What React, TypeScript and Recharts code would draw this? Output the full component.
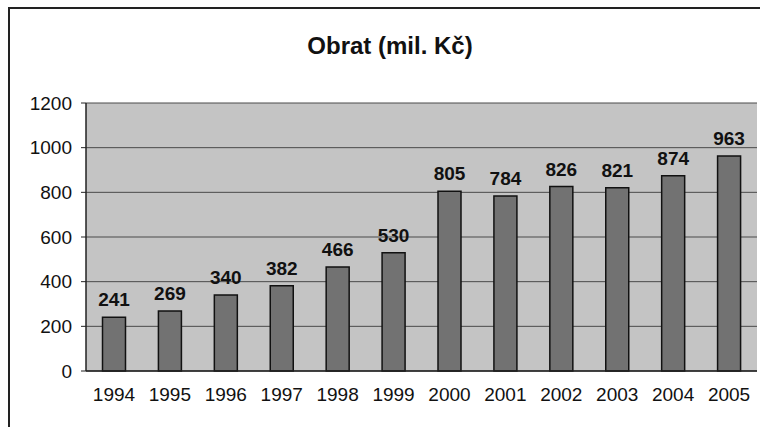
import React from 'react';
import { BarChart, Bar, XAxis, YAxis, CartesianGrid, LabelList } from 'recharts';

const years = ['1994', '1995', '1996', '1997', '1998', '1999', '2000', '2001', '2002', '2003', '2004', '2005'];
const turnover = [241, 269, 340, 382, 466, 530, 805, 784, 826, 821, 874, 963];
const yTicks = [0, 200, 400, 600, 800, 1000, 1200];

const data = years.map((year, i) => ({ year, value: turnover[i] }));

const font = 'Arial, "Liberation Sans", sans-serif';

const App: React.FC = () => {
    return (
        <div style={{ position: 'fixed', left: 0, top: 0, width: 760, height: 427, background: '#fff', fontFamily: font }}>
            <div
                style={{
                    position: 'absolute',
                    left: 8,
                    top: 7,
                    width: 760,
                    height: 440,
                    borderLeft: '2px solid #222',
                    borderTop: '2px solid #222',
                }}
            />
            <div
                style={{
                    position: 'absolute',
                    left: 0,
                    width: 760,
                    top: 32,
                    textAlign: 'center',
                    fontSize: 24,
                    fontWeight: 'bold',
                    color: '#111',
                    paddingLeft: 20,
                    boxSizing: 'border-box',
                }}
            >
                Obrat (mil. Kč)
            </div>
            <div style={{ position: 'absolute', left: 0, top: 0 }}>
                <BarChart
                    width={760}
                    height={427}
                    data={data}
                    margin={{ top: 103, right: 3, bottom: 26, left: 0 }}
                    barCategoryGap={16.5}
                >
                    <CartesianGrid
                        vertical={false}
                        stroke="#4a4a4a"
                        strokeWidth={1}
                        fill="#c4c4c4"
                        fillOpacity={1}
                    />
                    <XAxis
                        dataKey="year"
                        height={30}
                        axisLine={{ stroke: '#222', strokeWidth: 1.5 }}
                        tickLine={false}
                        tick={{ fill: '#111', fontSize: 19, fontFamily: font }}
                        tickMargin={11}
                    />
                    <YAxis
                        width={86}
                        domain={[0, 1200]}
                        ticks={yTicks}
                        interval={0}
                        axisLine={{ stroke: '#222', strokeWidth: 1.5 }}
                        tickLine={{ stroke: '#222' }}
                        tickSize={5}
                        tick={{ fill: '#111', fontSize: 19, fontFamily: font }}
                        tickMargin={9}
                    />
                    <Bar dataKey="value" fill="#727272" stroke="#111" strokeWidth={1.5} isAnimationActive={false}>
                        <LabelList
                            dataKey="value"
                            position="top"
                            offset={11}
                            style={{ fill: '#111', fontSize: 19, fontWeight: 'bold', fontFamily: font }}
                        />
                    </Bar>
                </BarChart>
            </div>
        </div>
    );
};

export default App;
